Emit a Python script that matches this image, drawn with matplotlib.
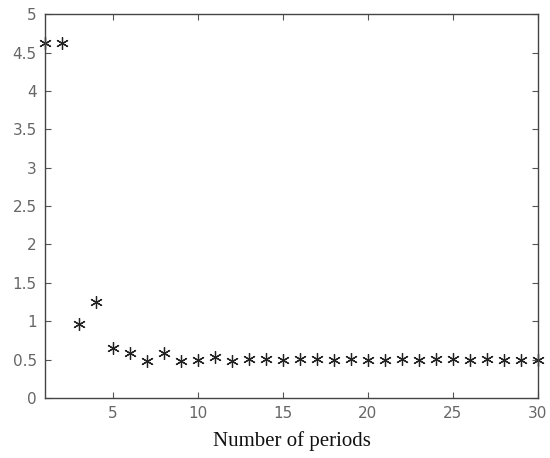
import matplotlib
matplotlib.use("Agg")
import matplotlib.pyplot as plt

periods = list(range(1, 31))
values = [4.62, 4.62, 0.97, 1.25, 0.65, 0.59, 0.48, 0.58, 0.48, 0.49,
          0.53, 0.48, 0.51, 0.51, 0.49, 0.51, 0.51, 0.49, 0.51, 0.49,
          0.50, 0.51, 0.49, 0.51, 0.51, 0.49, 0.51, 0.49, 0.49, 0.50]
x_ticks = [5, 10, 15, 20, 25, 30]
y_ticks = [0, 0.5, 1, 1.5, 2, 2.5, 3, 3.5, 4, 4.5, 5]
y_labels = ["0", "0.5", "1", "1.5", "2", "2.5", "3", "3.5", "4", "4.5", "5"]

fig = plt.figure(figsize=(5.5, 4.58), dpi=100)
ax = fig.add_axes([0.082, 0.131, 0.896, 0.838])
ax.plot(periods, values, linestyle="none", marker=(6, 2, 0), markersize=9,
        markeredgewidth=0.9, color="#222222", clip_on=False)

ax.set_xlim(1, 30)
ax.set_ylim(0, 5)
ax.set_xticks(x_ticks)
ax.set_yticks(y_ticks)
ax.set_yticklabels(y_labels)
ax.tick_params(direction="in", top=True, right=True, length=4, width=0.8,
               labelsize=11, labelcolor="#666666", color="#555555", pad=6)
for spine in ax.spines.values():
    spine.set_color("#444444")
    spine.set_linewidth(1.0)

ax.set_xlabel("Number of periods", family="Liberation Serif", fontsize=15,
              color="#111111", labelpad=7)

fig.savefig("out.png", dpi=100)
